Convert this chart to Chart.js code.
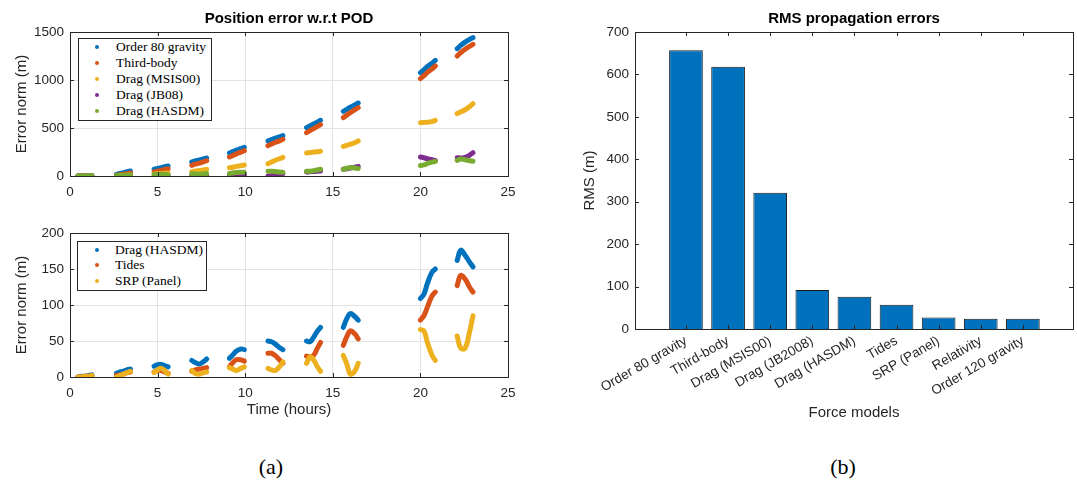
<!DOCTYPE html>
<html>
<head>
<meta charset="utf-8">
<script src="https://cdn.jsdelivr.net/npm/chart.js@4"></script>
<style>
body{margin:0;background:#fff;width:1077px;height:484px;position:relative;overflow:hidden}
canvas{position:absolute}
.legend{position:absolute;background:#fff;border:1px solid #262626;font-family:"Liberation Serif","Times New Roman",serif;font-size:13.5px;color:#000}
.legend .row{position:absolute;left:0;height:16px;line-height:16px;white-space:nowrap}
.legend .dot{position:absolute;width:4px;height:4px;border-radius:50%;top:6px}
.legend .txt{position:absolute;top:0}
.cap{position:absolute;width:100px;text-align:center;font-family:"Liberation Serif","Times New Roman",serif;font-size:22px;line-height:26px;color:#000}
</style>
</head>
<body>
<canvas id="top" width="540" height="200" style="left:0;top:0"></canvas>
<canvas id="bottom" width="540" height="230" style="left:0;top:200px"></canvas>
<canvas id="rms" width="537" height="430" style="left:540px;top:0"></canvas>
<div id="legTop" class="legend" style="left:78px;top:38px;width:132px;height:81px"></div>
<div id="legBottom" class="legend" style="left:77px;top:241px;width:128px;height:48px"></div>
<div class="cap" style="left:221px;top:454px">(a)</div>
<div class="cap" style="left:793px;top:454px">(b)</div>
<script>
// sample times (hours) of each propagation arc
const hours = [
  [0.45, 0.65, 0.85, 1.05, 1.25],
  [2.65, 2.85, 3.05, 3.25, 3.45],
  [4.8, 5.0, 5.2, 5.4, 5.6],
  [6.95, 7.15, 7.4, 7.6, 7.8],
  [9.1, 9.3, 9.5, 9.75, 9.95],
  [11.3, 11.5, 11.7, 11.95, 12.15],
  [13.5, 13.7, 13.9, 14.1, 14.3],
  [15.6, 15.8, 16.0, 16.25, 16.45],
  [20.0, 20.2, 20.4, 20.65, 20.85],
  [22.1, 22.3, 22.55, 22.8, 23.0]
];

// position error (m), top panel
const gravity80 = [
  [0, 1, 2, 3, 5], [17, 26, 35, 44, 52], [70, 78, 87, 96, 104], [146, 157, 167, 178, 188],
  [240, 255, 270, 285, 299], [365, 380, 393, 407, 420], [503, 522, 541, 561, 580],
  [674, 695, 717, 740, 760], [1076, 1105, 1140, 1172, 1205], [1326, 1360, 1395, 1422, 1441]
];
const thirdBody = [
  [0, 0, 1, 2, 3], [7, 13, 19, 25, 31], [42, 50, 59, 68, 76], [111, 123, 135, 148, 160],
  [198, 214, 231, 248, 264], [316, 333, 349, 366, 382], [451, 472, 493, 514, 535],
  [608, 634, 660, 688, 712], [1014, 1045, 1080, 1113, 1146], [1250, 1285, 1320, 1350, 1372]
];
const dragMsis = [
  [0, 0, 0, 1, 1], [0, 2, 5, 8, 10], [21, 23, 26, 29, 31], [45, 52, 57, 64, 69],
  [87, 92, 100, 108, 115], [128, 145, 162, 180, 194], [240, 245, 249, 253, 257],
  [309, 318, 330, 347, 365], [556, 558, 560, 566, 580], [650, 668, 690, 722, 753]
];
const dragJb08 = [
  [0, 0, 0, 0, 0], [0, 0, 1, 1, 2], [0, 2, 3, 4, 5], [3, 5, 6, 8, 10],
  [0, 3, 6, 11, 17], [0, 4, 10, 17, 24], [42, 44, 47, 49, 52],
  [70, 76, 84, 92, 100], [198, 190, 180, 170, 163], [191, 188, 195, 215, 243]
];
const dragHasdm = [
  [0, 1, 1, 2, 3], [5, 7, 8, 10, 11], [15, 17, 17.5, 16, 14], [23, 20, 18, 21, 25],
  [26, 31, 36, 39, 38], [50, 49, 46, 41, 38], [50, 49, 55, 63, 69],
  [69, 81, 88, 84, 79], [109, 115, 130, 145, 150], [162, 176, 169, 160, 153]
];
// bottom panel
const tides = [
  [0, 0, 1, 1, 2], [2, 3, 4, 6, 7], [7, 9, 9, 7, 5], [8, 10, 11, 12, 13],
  [14, 20, 24, 24, 22], [33, 33, 30, 24, 19], [29, 28, 30, 39, 48],
  [44, 56, 64, 60, 53], [79, 85, 97, 112, 118], [127, 141, 136, 125, 118]
];
const srpPanel = [
  [0, 0, 1, 1, 2], [0, 2, 4, 6, 8], [6, 10, 12, 9, 4], [9, 5, 4, 6, 7],
  [13, 11, 9, 12, 14], [12, 10, 9, 14, 21], [19, 28, 24, 15, 8],
  [30, 18, 4, 8, 19], [66, 64, 48, 31, 23], [57, 40, 40, 62, 85]
];

// RMS bar chart
const forceModels = ['Order 80 gravity', 'Third-body', 'Drag (MSIS00)', 'Drag (JB2008)', 'Drag (HASDM)',
  'Tides', 'SRP (Panel)', 'Relativity', 'Order 120 gravity'];
const rmsValues = [657, 618, 321, 92, 76, 57, 27, 24, 24];

const blue = '#0072BD', orange = '#D95319', yellow = '#EDB120', purple = '#7E2F8E', green = '#77AC30';

Chart.defaults.font.family = '"Liberation Sans", Arial, sans-serif';
Chart.defaults.font.size = 13.5;
Chart.defaults.color = '#262626';

function toPoints(series) {
  const pts = [];
  series.forEach((seg, k) => {
    seg.forEach((v, j) => pts.push({x: hours[k][j], y: v}));
    pts.push({x: hours[k][seg.length - 1], y: null}); // break between arcs
  });
  return pts;
}

function lineSet(label, series, color, order) {
  return {
    label: label, data: toPoints(series), borderColor: color, backgroundColor: color,
    borderWidth: 5, pointRadius: 0, tension: 0.4, borderCapStyle: 'round',
    borderJoinStyle: 'round', spanGaps: false, fill: false, order: order
  };
}

// box + inward ticks like matlab axes
const framePlugin = {
  id: 'frame',
  afterDatasetsDraw(chart) {
    const {ctx, chartArea: a, scales} = chart;
    ctx.save();
    ctx.strokeStyle = '#262626';
    ctx.lineWidth = 1;
    ctx.beginPath();
    scales.x.ticks.forEach(t => {
      const px = Math.round(scales.x.getPixelForValue(t.value)) + 0.5;
      ctx.moveTo(px, a.top); ctx.lineTo(px, a.top + 4);
      ctx.moveTo(px, a.bottom); ctx.lineTo(px, a.bottom - 4);
    });
    scales.y.ticks.forEach(t => {
      const py = Math.round(scales.y.getPixelForValue(t.value)) + 0.5;
      ctx.moveTo(a.left, py); ctx.lineTo(a.left + 4, py);
      ctx.moveTo(a.right, py); ctx.lineTo(a.right - 4, py);
    });
    ctx.stroke();
    ctx.strokeRect(Math.round(a.left) + 0.5, Math.round(a.top) + 0.5, Math.round(a.width), Math.round(a.height));
    ctx.restore();
  }
};

function titleOpts(text) {
  return {display: true, text: text, fullSize: false, color: '#000',
    font: {size: 15, weight: 'bold'}, padding: {top: 10, bottom: 4}};
}

function timeOptions(yMax, yStep, opts) {
  return {
    responsive: false, animation: false,
    layout: {padding: opts.padding},
    plugins: {
      legend: {display: false}, tooltip: {enabled: false},
      title: opts.title ? titleOpts(opts.title) : {display: false}
    },
    scales: {
      x: {
        type: 'linear', min: 0, max: 25,
        ticks: {stepSize: 5, padding: 8},
        grid: {color: '#e3e3e3', drawTicks: false},
        border: {display: false},
        title: opts.xTitle ? {display: true, text: opts.xTitle, font: {size: 15}, padding: {top: 0, bottom: 11}} : {display: false},
        afterFit: s => { s.height = opts.xHeight; }
      },
      y: {
        min: 0, max: yMax,
        ticks: {stepSize: yStep, padding: 6, callback: v => String(v)},
        grid: {color: '#e3e3e3', drawTicks: false},
        border: {display: false},
        title: {display: true, text: 'Error norm (m)', font: {size: 15}, padding: {top: 13, bottom: 0}},
        afterFit: s => { s.width = 70; }
      }
    }
  };
}

new Chart(document.getElementById('top'), {
  type: 'line',
  data: {
    datasets: [
      lineSet('Order 80 gravity', gravity80, blue, 5),
      lineSet('Third-body', thirdBody, orange, 4),
      lineSet('Drag (MSIS00)', dragMsis, yellow, 3),
      lineSet('Drag (JB08)', dragJb08, purple, 2),
      lineSet('Drag (HASDM)', dragHasdm, green, 1)
    ]
  },
  options: timeOptions(1500, 500, {padding: {left: 0, right: 32, top: 0, bottom: 0}, title: 'Position error w.r.t POD', xHeight: 24}),
  plugins: [framePlugin]
});

new Chart(document.getElementById('bottom'), {
  type: 'line',
  data: {
    datasets: [
      lineSet('Drag (HASDM)', dragHasdm, blue, 3),
      lineSet('Tides', tides, orange, 2),
      lineSet('SRP (Panel)', srpPanel, yellow, 1)
    ]
  },
  options: timeOptions(200, 50, {padding: {left: 0, right: 32, top: 33, bottom: 0}, xTitle: 'Time (hours)', xHeight: 53}),
  plugins: [framePlugin]
});

new Chart(document.getElementById('rms'), {
  type: 'bar',
  data: {
    datasets: [{
      data: rmsValues.map((v, i) => ({x: i + 1, y: v})),
      backgroundColor: blue, borderColor: '#1a1a1a', borderWidth: 1,
      barPercentage: 0.8, categoryPercentage: 1
    }]
  },
  options: {
    responsive: false, animation: false,
    layout: {padding: {left: 0, right: 4, top: 0, bottom: 0}},
    plugins: {
      legend: {display: false}, tooltip: {enabled: false},
      title: titleOpts('RMS propagation errors')
    },
    scales: {
      x: {
        type: 'linear', min: -0.21, max: 10.19, offset: false,
        afterBuildTicks: s => { s.ticks = forceModels.map((_, i) => ({value: i + 1})); },
        ticks: {callback: v => forceModels[v - 1], autoSkip: false, minRotation: 30, maxRotation: 30, padding: 4},
        grid: {display: false, drawTicks: false},
        border: {display: false},
        title: {display: true, text: 'Force models', font: {size: 15}, padding: {top: 0, bottom: 8}},
        afterFit: s => { s.height = 101; s.paddingLeft = 0; s.paddingRight = 0; }
      },
      y: {
        min: 0, max: 700,
        ticks: {stepSize: 100, padding: 6},
        grid: {display: false, drawTicks: false},
        border: {display: false},
        title: {display: true, text: 'RMS (m)', font: {size: 15}, padding: {top: 41, bottom: 0}},
        afterFit: s => { s.width = 95; }
      }
    }
  },
  plugins: [framePlugin]
});

// legends in matlab style boxes
function buildLegend(id, items, firstRow, rowStep, dotX, textX) {
  const box = document.getElementById(id);
  items.forEach((it, i) => {
    const row = document.createElement('div');
    row.className = 'row';
    row.style.top = (firstRow + i * rowStep - 8) + 'px';
    const dot = document.createElement('span');
    dot.className = 'dot';
    dot.style.left = (dotX - 2) + 'px';
    dot.style.background = it[1];
    const txt = document.createElement('span');
    txt.className = 'txt';
    txt.style.left = textX + 'px';
    txt.textContent = it[0];
    row.appendChild(dot);
    row.appendChild(txt);
    box.appendChild(row);
  });
}
buildLegend('legTop', [['Order 80 gravity', blue], ['Third-body', orange], ['Drag (MSIS00)', yellow],
  ['Drag (JB08)', purple], ['Drag (HASDM)', green]], 8, 16, 18, 37);
buildLegend('legBottom', [['Drag (HASDM)', blue], ['Tides', orange], ['SRP (Panel)', yellow]], 7.5, 15.8, 19, 37);
</script>
</body>
</html>
